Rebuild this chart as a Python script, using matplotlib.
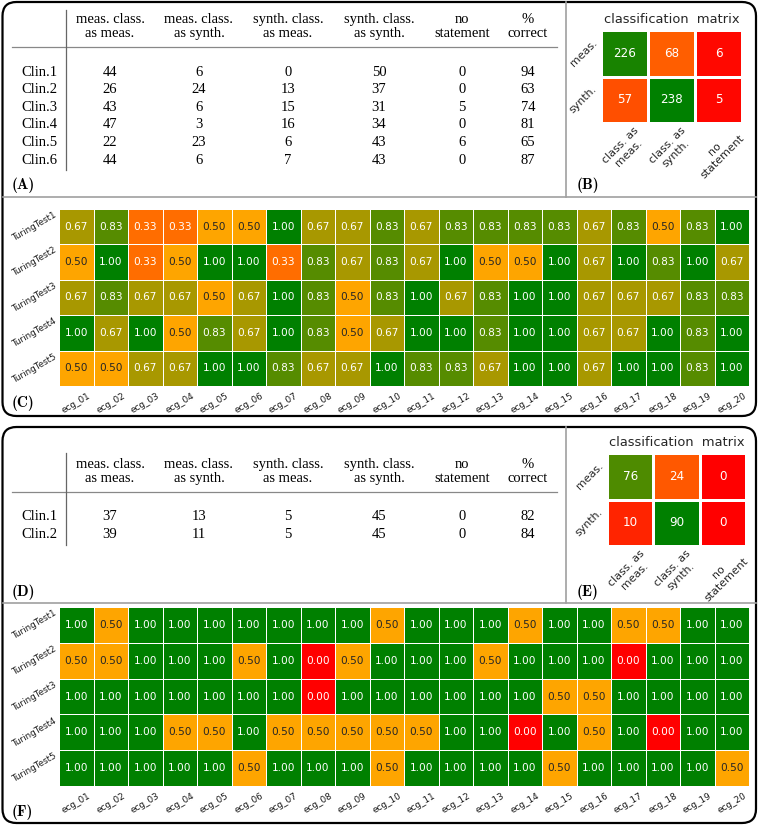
import matplotlib
matplotlib.use('Agg')
import matplotlib.pyplot as plt
import numpy as np
import seaborn as sns
from matplotlib.colors import LinearSegmentedColormap
from matplotlib.patches import FancyBboxPatch

# ---- data ----
col_headers = ['meas. class.\nas meas.', 'meas. class.\nas synth.', 'synth. class.\nas meas.',
               'synth. class.\nas synth.', 'no\nstatement', '%\ncorrect']

clin_a = ['Clin.1', 'Clin.2', 'Clin.3', 'Clin.4', 'Clin.5', 'Clin.6']
meas_as_meas_a = [44, 26, 43, 47, 22, 44]
meas_as_synth_a = [6, 24, 6, 3, 23, 6]
synth_as_meas_a = [0, 13, 15, 16, 6, 7]
synth_as_synth_a = [50, 37, 31, 34, 43, 43]
no_statement_a = [0, 0, 5, 0, 6, 0]
correct_a = [94, 63, 74, 81, 65, 87]

clin_d = ['Clin.1', 'Clin.2']
meas_as_meas_d = [37, 39]
meas_as_synth_d = [13, 11]
synth_as_meas_d = [5, 5]
synth_as_synth_d = [45, 45]
no_statement_d = [0, 0]
correct_d = [82, 84]

cm_rows = ['meas.', 'synth.']
cm_cols = ['class. as\nmeas.', 'class. as\nsynth.', 'no\nstatement']
cm_b = np.array([[226, 68, 6], [57, 238, 5]])
cm_e = np.array([[76, 24, 0], [10, 90, 0]])

tests = ['TuringTest1', 'TuringTest2', 'TuringTest3', 'TuringTest4', 'TuringTest5']
ecgs = ['ecg_%02d' % i for i in range(1, 21)]

heat_c = np.array([
    [0.67, 0.83, 0.33, 0.33, 0.50, 0.50, 1.00, 0.67, 0.67, 0.83, 0.67, 0.83, 0.83, 0.83, 0.83, 0.67, 0.83, 0.50, 0.83, 1.00],
    [0.50, 1.00, 0.33, 0.50, 1.00, 1.00, 0.33, 0.83, 0.67, 0.83, 0.67, 1.00, 0.50, 0.50, 1.00, 0.67, 1.00, 0.83, 1.00, 0.67],
    [0.67, 0.83, 0.67, 0.67, 0.50, 0.67, 1.00, 0.83, 0.50, 0.83, 1.00, 0.67, 0.83, 1.00, 1.00, 0.67, 0.67, 0.67, 0.83, 0.83],
    [1.00, 0.67, 1.00, 0.50, 0.83, 0.67, 1.00, 0.83, 0.50, 0.67, 1.00, 1.00, 0.83, 1.00, 1.00, 0.67, 0.67, 1.00, 0.83, 1.00],
    [0.50, 0.50, 0.67, 0.67, 1.00, 1.00, 0.83, 0.67, 0.67, 1.00, 0.83, 0.83, 0.67, 1.00, 1.00, 0.67, 1.00, 1.00, 0.83, 1.00]])

heat_f = np.array([
    [1.00, 0.50, 1.00, 1.00, 1.00, 1.00, 1.00, 1.00, 1.00, 0.50, 1.00, 1.00, 1.00, 0.50, 1.00, 1.00, 0.50, 0.50, 1.00, 1.00],
    [0.50, 0.50, 1.00, 1.00, 1.00, 0.50, 1.00, 0.00, 0.50, 1.00, 1.00, 1.00, 0.50, 1.00, 1.00, 1.00, 0.00, 1.00, 1.00, 1.00],
    [1.00, 1.00, 1.00, 1.00, 1.00, 1.00, 1.00, 0.00, 1.00, 1.00, 1.00, 1.00, 1.00, 1.00, 0.50, 0.50, 1.00, 1.00, 1.00, 1.00],
    [1.00, 1.00, 1.00, 0.50, 0.50, 1.00, 0.50, 0.50, 0.50, 0.50, 0.50, 1.00, 1.00, 0.00, 1.00, 0.50, 1.00, 0.00, 1.00, 1.00],
    [1.00, 1.00, 1.00, 1.00, 1.00, 0.50, 1.00, 1.00, 1.00, 0.50, 1.00, 1.00, 1.00, 1.00, 0.50, 1.00, 1.00, 1.00, 1.00, 0.50]])

# ---- layout (pixels) ----
W, H = 760, 826
fig = plt.figure(figsize=(W / 100, H / 100), dpi=100)


def px_axes(l, t, r, b):
    return fig.add_axes([l / W, 1 - b / H, (r - l) / W, (b - t) / H])


bg = fig.add_axes([0, 0, 1, 1])
bg.set_xlim(0, W)
bg.set_ylim(H, 0)
bg.axis('off')

cmap = LinearSegmentedColormap.from_list('rog', ['red', 'orange', 'green'])

# panel frames
for top, bot in [(2, 416), (427, 823)]:
    bg.add_patch(FancyBboxPatch((2.5, top), 753.5, bot - top, boxstyle='round,pad=0,rounding_size=14',
                                fc='none', ec='black', lw=1.6))
for top, sep in [(2, 197), (427, 603)]:
    bg.plot([2.5, 756], [sep, sep], color='#a0a0a0', lw=1.2)
    bg.plot([566, 566], [top, sep], color='#a0a0a0', lw=1.2)

col_x = [110, 199, 288, 379, 462, 528]
tfont = dict(family='Liberation Serif', fontsize=10.5)


def draw_table(head_y, row0, vtop, vbot, labels, cols):
    for x, h in zip(col_x, col_headers):
        bg.text(x, head_y, h, ha='center', va='center', linespacing=1.15, **tfont)
    bg.plot([12, 557], [head_y + 20, head_y + 20], color='#888888', lw=0.9)
    bg.plot([66, 66], [vtop, vbot], color='#666666', lw=0.9)
    for i, lab in enumerate(labels):
        y = row0 + 17.6 * i
        bg.text(57, y, lab, ha='right', va='center', **tfont)
        for x, c in zip(col_x, cols):
            bg.text(x, y, str(c[i]), ha='center', va='center', **tfont)


draw_table(26.5, 72, 10, 170, clin_a,
           [meas_as_meas_a, meas_as_synth_a, synth_as_meas_a, synth_as_synth_a, no_statement_a, correct_a])
draw_table(471.5, 517, 453, 545, clin_d,
           [meas_as_meas_d, meas_as_synth_d, synth_as_meas_d, synth_as_synth_d, no_statement_d, correct_d])

for lab, x, y in [('A', 12, 185), ('B', 577, 185), ('C', 12, 403),
                  ('D', 12, 592), ('E', 577, 592), ('F', 12, 812)]:
    bg.text(x, y, '(%s)' % lab, family='cmb10', fontsize=11, ha='left', va='center')


def draw_cm(ax, cm):
    sns.heatmap(cm, ax=ax, cmap=cmap, vmin=0, vmax=cm.max(), annot=True, fmt='d', cbar=False,
                linewidths=0.8, linecolor='white', annot_kws={'fontsize': 8.6},
                xticklabels=cm_cols, yticklabels=cm_rows)
    ax.set_title('classification  matrix', fontsize=9.4, pad=5, color='#262626')
    ax.tick_params(length=0, pad=1.5)
    plt.setp(ax.get_xticklabels(), rotation=45, ha='center', fontsize=7.9, color='#262626')
    plt.setp(ax.get_yticklabels(), rotation=45, ha='right', va='center', fontsize=7.9, color='#262626')


def draw_heat(ax, data):
    sns.heatmap(data, ax=ax, cmap=cmap, vmin=0, vmax=1, annot=True, fmt='.2f', cbar=False,
                linewidths=0.6, linecolor='white', annot_kws={'fontsize': 7.6},
                xticklabels=ecgs, yticklabels=tests)
    ax.tick_params(axis='x', length=0, pad=3.5)
    ax.tick_params(axis='y', length=0, pad=0.5)
    plt.setp(ax.get_xticklabels(), rotation=30, ha='center', fontsize=6.4, color='#1a1a1a')
    plt.setp(ax.get_yticklabels(), rotation=30, ha='right', va='center', fontsize=6.3, color='#1a1a1a')


draw_cm(px_axes(601, 30, 742, 123), cm_b)
draw_cm(px_axes(607, 453, 746, 546), cm_e)
draw_heat(px_axes(59, 209, 749, 386), heat_c)
draw_heat(px_axes(59, 607, 749, 786), heat_f)

fig.savefig('out.png', dpi=100)
